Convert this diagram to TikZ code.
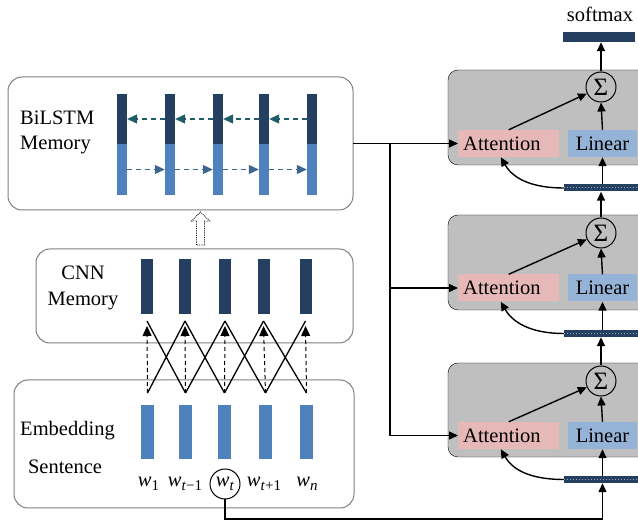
\documentclass[tikz,border=0pt]{standalone}
\usepackage{fontspec}
\setmainfont{Liberation Serif}
\usetikzlibrary{arrows.meta}

\definecolor{navy}{HTML}{243F60}
\definecolor{steel}{HTML}{4F81BD}
\definecolor{boxline}{HTML}{7F7F7F}
\definecolor{panel}{HTML}{BFBFBF}
\definecolor{attnpink}{HTML}{E6B9B8}
\definecolor{linblue}{HTML}{95B3D7}
\definecolor{backarrow}{HTML}{1F5C6B}
\definecolor{fwdarrow}{HTML}{3E6690}
\definecolor{dotlight}{HTML}{8FAACB}

\newcommand\wsub[1]{\textit{w}\raisebox{-4.5pt}{\fontsize{15}{15}\selectfont #1}}

\tikzset{
  txt/.style={inner sep=0pt, font=\fontsize{20.5}{25}\selectfont},
  memorybox/.style={draw=boxline, line width=1pt, rounded corners=14pt},
  panelbox/.style={fill=panel, rounded corners=10pt},
  bar/.style={rectangle, inner sep=0pt, draw=none},
  arr/.style={line width=1.4pt, -{Triangle[length=9pt,width=8pt]}},
  conv/.style={line width=1.3pt},
  convdash/.style={line width=1pt, dash pattern=on 4pt off 3pt, -{Triangle[length=10pt,width=9pt]}},
  recur/.style={line width=1.1pt, dash pattern=on 5pt off 4pt, -{Triangle[length=10pt,width=9pt]}},
  attnbox/.style={fill=attnpink, inner xsep=5pt, inner ysep=0pt, minimum height=27pt,
                  text width=91pt, align=left, font=\fontsize{20.5}{25}\selectfont},
  linbox/.style={fill=linblue, inner sep=0pt, minimum height=27pt, minimum width=69pt,
                 font=\fontsize{20.5}{25}\selectfont},
  sumnode/.style={circle, draw, line width=1pt, minimum size=30pt, inner sep=0pt,
                  font=\fontsize{25}{25}\selectfont},
  hopbar/.style={bar, fill=navy, minimum width=76pt, minimum height=7pt},
}

\begin{document}
\begin{tikzpicture}[x=1pt, y=-1pt]
\useasboundingbox (0,0) rectangle (638,521);
\clip (0,0) rectangle (638,521);

% ---------------- left column: memories ----------------
\draw[memorybox] (8,77) rectangle (353,210);
\node (bilstm) at (180.5,143.5) [minimum width=345pt, minimum height=133pt, inner sep=0pt] {};
\node[txt, anchor=west, align=left] (bilstmlbl) at (20,132.5) {BiLSTM\\Memory};

\draw[memorybox] (36,249) rectangle (353,343);
\node[txt, align=center] (cnnlbl) at (83,288) {CNN\\[1pt]Memory};

\draw[memorybox] (14,380) rectangle (354,508);
\node[txt] (emblbl) at (67.5,431) {Embedding};
\node[txt] (sentlbl) at (65,467) {Sentence};

% BiLSTM states: backward half on top, forward half below
\foreach \i/\x in {1/122,2/170,3/218,4/264,5/312}{
  \node[bar, fill=navy, minimum width=10pt, minimum height=50pt] (bt\i) at (\x,119) {};
  \node[bar, fill=steel, minimum width=10pt, minimum height=51pt] (bb\i) at (\x,169.5) {};
}
\foreach \a/\b in {5/4,4/3,3/2,2/1}
  \draw[recur, backarrow] (bt\a.west) -- (bt\b.east);
\foreach \a/\b in {1/2,2/3,3/4,4/5}
  \draw[recur, fwdarrow] (bb\a.east) -- (bb\b.west);

% hollow dotted arrow from CNN memory to BiLSTM memory
\draw[densely dotted, line width=0.8pt, fill=white]
  (196.5,245) -- (196.5,221) -- (191.5,221) -- (200.5,212) -- (209.5,221) -- (204.5,221) -- (204.5,245) -- cycle;

% CNN memory cells
\foreach \i/\x in {1/147,2/185,3/225,4/263.5,5/305.5}{
  \node[bar, fill=navy, minimum width=12pt, minimum height=55pt] (c\i) at (\x,286.5) {};
  \coordinate (ct\i) at (\x,326);
}

% word embeddings
\foreach \i/\x in {1/147.5,2/185.5,3/224.5,4/265.5,5/306.5}{
  \node[bar, fill=steel, minimum width=13pt, minimum height=54pt] (e\i) at (\x,432) {};
  \coordinate (eb\i) at (\x,393);
}

% convolution connections
\foreach \a/\b in {1/2,2/3,3/4,4/5}{
  \draw[conv] (eb\a) -- ([yshift=5pt]ct\b);
  \draw[conv] (eb\b) -- ([yshift=5pt]ct\a);
}
\foreach \i in {1,...,5}
  \draw[convdash] (eb\i) -- (ct\i);

% words
\node[txt] (w1) at (148.5,484) {\wsub{1}};
\node[txt] (w2) at (185,484) {\wsub{\textit{t}−1}};
\node[circle, draw, line width=1pt, minimum size=30pt, inner sep=0pt,
      font=\fontsize{20.5}{25}\selectfont] (wt) at (225,484) {\raisebox{2pt}{\wsub{\textit{t}}}};
\node[txt] (w4) at (264,484) {\wsub{\textit{t}+1}};
\node[txt] (w5) at (307,484) {\wsub{\textit{n}}};

% ---------------- right column: hops ----------------
\foreach \k/\top/\bot in {1/70/165,2/215/310,3/363/457}
  \draw[panelbox] (448,\top) rectangle (660,\bot);

\foreach \k/\y in {1/143.5,2/288,3/435.5}{
  \node[attnbox, anchor=west] (a\k) at (458,\y) {Attention};
  \node[linbox] (l\k) at (602.5,\y) {Linear};
}
\node[sumnode] (s1) at (601,87) {Σ};
\node[sumnode] (s2) at (601,233) {Σ};
\node[sumnode] (s3) at (601,381) {Σ};

\foreach \k/\y in {1/188,2/333.5,3/479.5}{
  \node[hopbar] (h\k) at (602,\y) {};
  \draw[dotlight, line width=1pt, dash pattern=on 1pt off 2pt] (h\k.west) -- (h\k.east);
}

% output
\node[bar, fill=navy, minimum width=72pt, minimum height=10pt] (soft) at (599,37) {};
\node[txt] (softlbl) at (600,14) {softmax};

\foreach \k in {1,2,3}{
  \draw[arr] (l\k.south |- h\k.north) -- (l\k.south);
  \draw[arr] (l\k.north) -- (s\k.south);
  \draw[arr] (a\k.north) -- (s\k);
  \draw[arr] (h\k.west) to[out=180, in=-60] ([xshift=-8pt]a\k.south);
}
\draw[arr] (s1.north) -- (s1.north |- soft.south);
\draw[arr] (s2.north) -- (s2.north |- h1.south);
\draw[arr] (s3.north) -- (s3.north |- h2.south);

% memory into each attention block
\coordinate (split) at (390,143.5);
\draw[arr] (bilstm.east |- a1.west) -- (a1.west);
\draw[arr] (split) |- (a3.west);
\draw[arr] (split |- a2.west) -- (a2.west);

% query word into the last hop
\coordinate (turn) at (602.5,519);
\draw[arr] (wt.south) |- (turn) -- (l3.south |- h3.south);
\end{tikzpicture}
\end{document}
